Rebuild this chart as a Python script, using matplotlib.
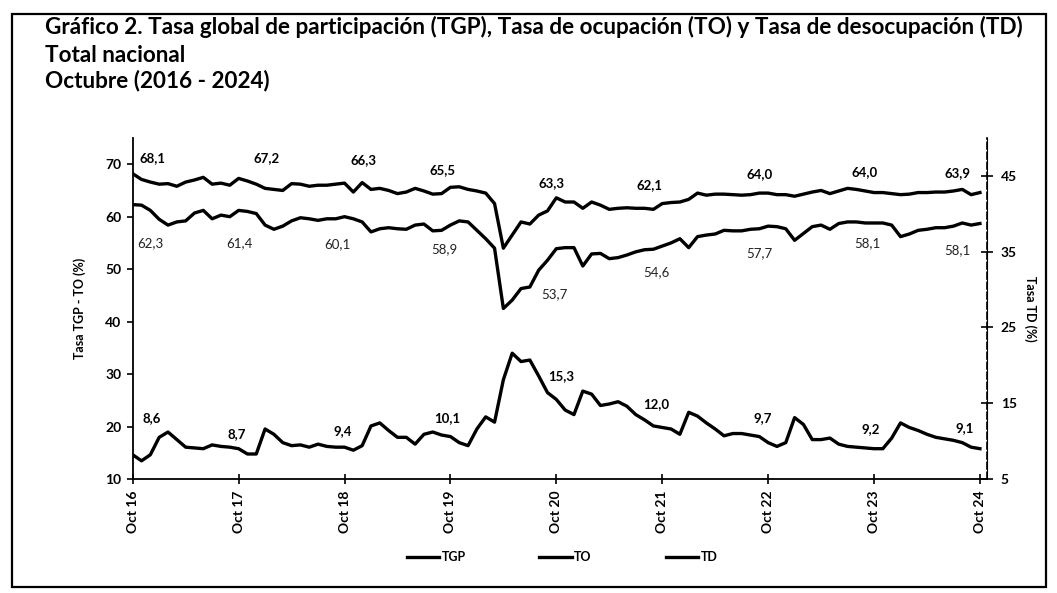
import matplotlib
matplotlib.use("Agg")
import matplotlib.pyplot as plt
from matplotlib.patches import Rectangle

plt.rcParams['font.family'] = ['Lato', 'DejaVu Sans']

# ---------------- data (monthly, Oct 2016 - Oct 2024) ----------------
tgp = [68.2, 67.1, 66.6, 66.2, 66.3, 65.8, 66.6, 67.0, 67.5, 66.2, 66.4, 66.0,
       67.3, 66.8, 66.2, 65.4, 65.2, 65.0, 66.3, 66.2, 65.8, 66.0, 66.0, 66.2,
       66.4, 64.7, 66.5, 65.2, 65.4, 65.0, 64.4, 64.7, 65.4, 64.9, 64.3, 64.4,
       65.6, 65.7, 65.2, 64.9, 64.5, 62.5, 54.0, 56.5, 59.0, 58.6, 60.3, 61.1,
       63.6, 62.8, 62.8, 61.6, 62.8, 62.2, 61.4, 61.6, 61.7, 61.6, 61.6, 61.4,
       62.5, 62.7, 62.8, 63.3, 64.5, 64.1, 64.3, 64.3, 64.2, 64.1, 64.2, 64.5,
       64.5, 64.2, 64.2, 63.9, 64.3, 64.7, 65.0, 64.4, 64.9, 65.4, 65.2, 64.9,
       64.6, 64.6, 64.4, 64.2, 64.3, 64.6, 64.6, 64.7, 64.7, 64.9, 65.2, 64.2,
       64.6]
to = [62.3, 62.2, 61.2, 59.5, 58.4, 59.0, 59.2, 60.7, 61.2, 59.6, 60.3, 60.0,
      61.2, 61.0, 60.6, 58.4, 57.6, 58.2, 59.2, 59.8, 59.6, 59.3, 59.6, 59.6,
      60.0, 59.6, 59.0, 57.1, 57.7, 57.9, 57.7, 57.6, 58.4, 58.6, 57.3, 57.4,
      58.4, 59.2, 59.0, 57.4, 55.8, 54.0, 42.5, 44.1, 46.3, 46.6, 49.8, 51.7,
      53.9, 54.1, 54.1, 50.6, 52.9, 53.0, 52.0, 52.2, 52.7, 53.3, 53.7, 53.8,
      54.4, 55.0, 55.8, 54.1, 56.2, 56.5, 56.7, 57.4, 57.3, 57.3, 57.6, 57.7,
      58.2, 58.1, 57.7, 55.5, 56.8, 58.1, 58.4, 57.6, 58.7, 59.0, 59.0, 58.8,
      58.8, 58.8, 58.4, 56.2, 56.7, 57.4, 57.6, 57.9, 57.9, 58.2, 58.8, 58.4,
      58.7]
td = [8.2, 7.4, 8.2, 10.5, 11.2, 10.2, 9.2, 9.1, 9.0, 9.5, 9.3, 9.2,
      9.0, 8.3, 8.3, 11.6, 10.9, 9.8, 9.4, 9.5, 9.2, 9.6, 9.3, 9.2,
      9.2, 8.8, 9.4, 12.0, 12.4, 11.4, 10.5, 10.5, 9.6, 10.9, 11.2, 10.8,
      10.6, 9.8, 9.4, 11.6, 13.2, 12.5, 18.1, 21.6, 20.5, 20.7, 18.6, 16.4,
      15.5, 14.1, 13.5, 16.6, 16.2, 14.7, 14.9, 15.2, 14.6, 13.5, 12.8, 12.0,
      11.8, 11.6, 10.9, 13.8, 13.3, 12.4, 11.6, 10.7, 11.0, 11.0, 10.8, 10.6,
      9.8, 9.3, 9.8, 13.1, 12.2, 10.2, 10.2, 10.4, 9.6, 9.3, 9.2, 9.1,
      9.0, 9.0, 10.4, 12.4, 11.8, 11.4, 10.9, 10.5, 10.3, 10.1, 9.8, 9.2,
      9.0]

oct_labels = ["Oct 16", "Oct 17", "Oct 18", "Oct 19", "Oct 20",
              "Oct 21", "Oct 22", "Oct 23", "Oct 24"]
tgp_oct = ["68,1", "67,2", "66,3", "65,5", "63,3", "62,1", "64,0", "64,0", "63,9"]
to_oct = ["62,3", "61,4", "60,1", "58,9", "53,7", "54,6", "57,7", "58,1", "58,1"]
td_oct = ["8,6", "8,7", "9,4", "10,1", "15,3", "12,0", "9,7", "9,2", "9,1"]

# label offsets in pixels (style only)
tgp_off = [(20, 16), (28, 20), (19, 23), (-8, 17), (-5, 15), (-13, 18), (-9, 19), (-9, 20), (-22, 19)]
to_off = [(18, -39), (1, -33), (-7, -27), (-6, -24), (-2, -45), (-6, -26), (-9, -27), (-7, -20), (-23, -27)]
td_off = [(19, 37), (-2, 15), (-2, 16), (-3, 18), (5, 23), (-6, 23), (-5, 25), (-3, 20), (-15, 21)]

x = list(range(len(tgp)))
oct_idx = list(range(0, len(tgp), 12))

W, H = 1057, 593
fig = plt.figure(figsize=(W / 100, H / 100), dpi=100)
fig.patches.append(Rectangle((12 / W, 1 - 587 / H), (1046 - 12) / W, (587 - 14) / H,
                             transform=fig.transFigure, fill=False, lw=1.6, ec='black'))

ax = fig.add_axes([132.7 / W, 1 - 479 / H, (987 - 132.7) / W, (479 - 138) / H])
ax2 = ax.twinx()

l1, = ax.plot(x, tgp, color='black', lw=2.4, label='TGP', solid_joinstyle='round')
l2, = ax.plot(x, to, color='black', lw=2.4, label='TO', solid_joinstyle='round')
l3, = ax2.plot(x, td, color='black', lw=2.4, label='TD', solid_joinstyle='round')

ax.set_xlim(0, 96.8)
ax.set_ylim(10, 75)
ax2.set_ylim(5, 50)
ax.set_yticks([10, 20, 30, 40, 50, 60, 70])
ax2.set_yticks([5, 15, 25, 35, 45])
ax.set_xticks(oct_idx)
ax.set_xticklabels(oct_labels, rotation=90, fontweight='bold', fontsize=10)

for a in (ax, ax2):
    a.spines['top'].set_visible(False)
ax.spines['left'].set_linewidth(1.3)
ax.spines['bottom'].set_linewidth(1.3)
ax2.spines['right'].set_linewidth(1.2)
ax2.spines['right'].set_linestyle((0, (4, 2)))
ax2.spines['left'].set_visible(False)
ax2.spines['bottom'].set_visible(False)

ax.tick_params(axis='y', direction='out', length=4, width=1.2, labelsize=10, pad=4)
ax.tick_params(axis='x', direction='inout', length=7, width=1.2, pad=5)
ax2.tick_params(axis='y', direction='inout', length=8, width=1.2, labelsize=10, pad=6)
for t in ax.get_yticklabels() + ax2.get_yticklabels():
    t.set_fontweight('bold')

ax.set_ylabel("Tasa TGP - TO (%)", fontsize=9, fontweight='bold', labelpad=14)
ax2.set_ylabel("Tasa TD (%)", fontsize=9, fontweight='bold', rotation=270, labelpad=14)

for k, i in enumerate(oct_idx):
    ax.annotate(tgp_oct[k], (i, tgp[i]), xytext=tgp_off[k], textcoords='offset pixels',
                ha='center', va='center', fontsize=9.5, fontweight='bold')
    ax.annotate(to_oct[k], (i, to[i]), xytext=to_off[k], textcoords='offset pixels',
                ha='center', va='center', fontsize=9.5, color='#222222')
    ax2.annotate(td_oct[k], (i, td[i]), xytext=td_off[k], textcoords='offset pixels',
                 ha='center', va='center', fontsize=9.5, fontweight='bold')

fig.legend(handles=[l1, l2, l3], labels=['TGP', 'TO', 'TD'], loc='center',
           bbox_to_anchor=(562 / W, 1 - 557 / H), ncol=3, frameon=False,
           handlelength=2.6, handletextpad=0.2, columnspacing=5.9,
           prop={'weight': 'bold', 'size': 9})

title_fs = 16.2
fig.text(45 / W, 1 - 27 / H, "Gráfico 2. Tasa global de participación (TGP), Tasa de ocupación (TO) y Tasa de desocupación (TD)",
         fontsize=title_fs, fontweight='bold', va='center', ha='left')
fig.text(45 / W, 1 - 55 / H, "Total nacional", fontsize=title_fs, fontweight='bold', va='center', ha='left')
fig.text(45 / W, 1 - 81 / H, "Octubre (2016 - 2024)", fontsize=title_fs, fontweight='bold', va='center', ha='left')

fig.savefig("out.png", dpi=100)
